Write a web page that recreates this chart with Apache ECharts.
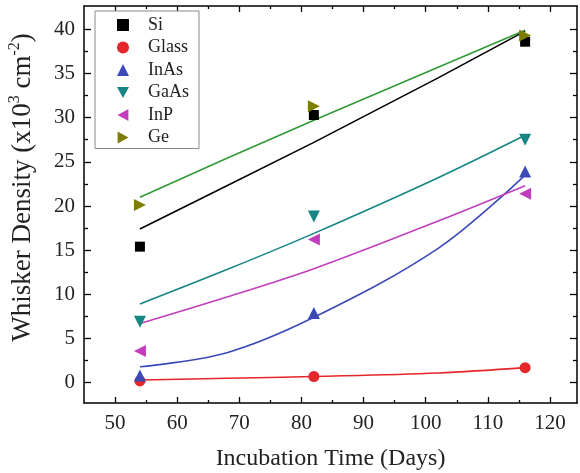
<!DOCTYPE html>
<html>
<head>
<meta charset="utf-8">
<script src="https://cdn.jsdelivr.net/npm/echarts@6/dist/echarts.min.js"></script>
<style>
  html, body { margin: 0; padding: 0; background: #fff; }
  #chart { width: 580px; height: 473px; }
</style>
</head>
<body>
<div id="chart"></div>
<script>
// Measured whisker densities (x10^3 cm^-2) at each incubation time
const days = [54, 82, 116];
const siDensity = [15.4, 30.3, 38.6];
const glassDensity = [0.2, 0.7, 1.7];
const inasDensity = [0.8, 7.9, 23.9];
const gaasDensity = [6.9, 18.8, 27.5];
const inpDensity = [3.6, 16.2, 21.4];
const geDensity = [20.1, 31.3, 39.3];

// Fitted trend curves, sampled along the incubation period
const fitDays = [54, 68, 82, 102, 116];
const siFit = [17.4, 22.3, 27.2, 34.5, 39.8];
const glassFit = [0.3, 0.5, 0.7, 1.1, 1.7];
const inasFit = [1.8, 3.4, 7.4, 15.2, 23.5];
const gaasFit = [8.9, 12.8, 16.9, 23.2, 28.0];
const inpFit = [6.7, 9.7, 12.9, 18.3, 22.3];
const geFit = [21.0, 25.4, 29.7, 35.7, 39.9];

// Axis ticks
const xMajorTicks = [50, 60, 70, 80, 90, 100, 110, 120];
const xMinorTicks = [55, 65, 75, 85, 95, 105, 115];
const yMajorTicks = [0, 5, 10, 15, 20, 25, 30, 35, 40];
const yMinorTicks = [2.5, 7.5, 12.5, 17.5, 22.5, 27.5, 32.5, 37.5];

const X_MIN = 45, X_MAX = 124.35;
const Y_MIN = -2.3, Y_MAX = 42.64;

const SERIF = '"Liberation Serif", "DejaVu Serif", serif';

// Triangle symbols pointing down / left / right
const TRI_DOWN = 'path://M0,0 L10,0 L5,9 Z';
const TRI_LEFT = 'path://M9,0 L9,10 L0,5 Z';
const TRI_RIGHT = 'path://M0,0 L0,10 L9,5 Z';

const materials = [
  { name: 'Si', data: siDensity, fit: siFit, smooth: false, symbol: 'rect', size: 10, color: '#000000', line: '#000000' },
  { name: 'Glass', data: glassDensity, fit: glassFit, smooth: 0.35, symbol: 'circle', size: 11, color: '#e5262b', line: '#e5262b' },
  { name: 'InAs', data: inasDensity, fit: inasFit, smooth: 0.35, symbol: 'triangle', size: 12, color: '#3c49b6', line: '#3c49b6' },
  { name: 'GaAs', data: gaasDensity, fit: gaasFit, smooth: 0.35, symbol: TRI_DOWN, size: 12, color: '#168584', line: '#168584' },
  { name: 'InP', data: inpDensity, fit: inpFit, smooth: 0.35, symbol: TRI_LEFT, size: 12, color: '#c23ebd', line: '#c23ebd' },
  { name: 'Ge', data: geDensity, fit: geFit, smooth: false, symbol: TRI_RIGHT, size: 12, color: '#7d7d00', line: '#2f9a36' }
];

const fitSeries = materials.map(m => ({
  type: 'line',
  name: m.name + ' fit',
  data: fitDays.map((d, i) => [d, m.fit[i]]),
  smooth: m.smooth,
  showSymbol: false,
  symbol: 'none',
  silent: true,
  lineStyle: { color: m.line, width: 1.6 },
  z: 2
}));

const pointSeries = materials.map(m => ({
  type: 'scatter',
  name: m.name,
  data: days.map((d, i) => [d, m.data[i]]),
  symbol: m.symbol,
  symbolSize: m.size,
  itemStyle: { color: m.color, opacity: 1 },
  z: 3
}));

const blackLine = { color: '#000', width: 1.5 };

function xAxisDef(position, ticks, len, showLine, showLabel) {
  return {
    type: 'value', position: position, min: X_MIN, max: X_MAX,
    axisLine: { show: showLine, onZero: false, lineStyle: blackLine },
    axisTick: { show: true, inside: true, length: len, customValues: ticks, lineStyle: { color: '#000', width: 1.3 } },
    axisLabel: showLabel
      ? { show: true, customValues: ticks, fontFamily: SERIF, fontSize: 21, color: '#222', margin: 10 }
      : { show: false },
    splitLine: { show: false }
  };
}

function yAxisDef(position, ticks, len, showLine, showLabel) {
  return {
    type: 'value', position: position, min: Y_MIN, max: Y_MAX,
    axisLine: { show: showLine, onZero: false, lineStyle: blackLine },
    axisTick: { show: true, inside: true, length: len, customValues: ticks, lineStyle: { color: '#000', width: 1.3 } },
    axisLabel: showLabel
      ? { show: true, customValues: ticks, fontFamily: SERIF, fontSize: 21, color: '#222', margin: 9 }
      : { show: false },
    splitLine: { show: false }
  };
}

const xMain = xAxisDef('bottom', xMajorTicks, 6, true, true);
xMain.name = 'Incubation Time (Days)';
xMain.nameLocation = 'middle';
xMain.nameGap = 44;
xMain.nameTextStyle = { fontFamily: SERIF, fontSize: 24, color: '#222' };

const yMain = yAxisDef('left', yMajorTicks, 7, true, true);
yMain.name = '{n|Whisker Density (x10}{s|3}{n| cm}{s|-2}{n|)}';
yMain.nameLocation = 'middle';
yMain.nameGap = 45;
yMain.nameTextStyle = {
  color: '#222',
  padding: [0, 0, 0, 34],
  rich: {
    n: { fontFamily: SERIF, fontSize: 27, color: '#222', lineHeight: 32 },
    s: { fontFamily: SERIF, fontSize: 16, color: '#222', lineHeight: 17, verticalAlign: 'top' }
  }
};

const option = {
  animation: false,
  backgroundColor: '#ffffff',
  grid: { left: 84, right: 3, top: 6, bottom: 70, containLabel: false, outerBoundsMode: 'none' },
  legend: {
    data: materials.map(m => m.name),
    orient: 'vertical',
    left: 95,
    top: 11,
    padding: [5, 10, 2, 22],
    itemGap: 4.5,
    itemWidth: 12,
    itemHeight: 12,
    borderColor: '#8a8a8a',
    borderWidth: 1,
    backgroundColor: '#fff',
    textStyle: { fontFamily: SERIF, fontSize: 18, color: '#222', lineHeight: 18, padding: [0, 0, 0, 14] }
  },
  xAxis: [
    xMain,
    xAxisDef('bottom', xMinorTicks, 3, false, false),
    xAxisDef('top', xMajorTicks, 6, true, false),
    xAxisDef('top', xMinorTicks, 3, false, false)
  ],
  yAxis: [
    yMain,
    yAxisDef('left', yMinorTicks, 4, false, false),
    yAxisDef('right', yMajorTicks, 7, true, false),
    yAxisDef('right', yMinorTicks, 4, false, false)
  ],
  series: fitSeries.concat(pointSeries)
};

const chart = echarts.init(document.getElementById('chart'), null, { renderer: 'canvas' });
chart.setOption(option);
</script>
</body>
</html>
